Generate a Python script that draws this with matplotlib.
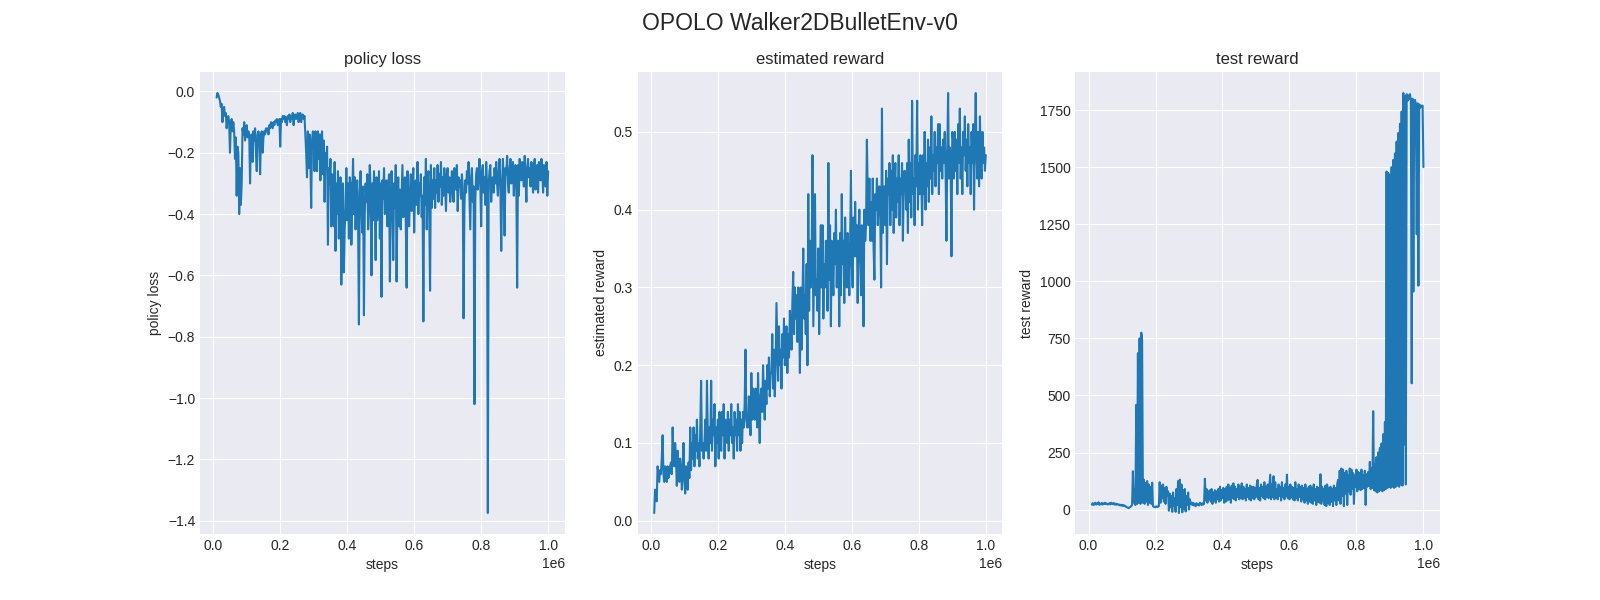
import numpy as np
import matplotlib
matplotlib.use("Agg")
import matplotlib.pyplot as plt

# one evaluation every 2500 steps, starting at 10k
FIRST_STEP = 10000
STEP = 2500

policy_loss = [
    -0.02, -0.005, -0.01, -0.02, -0.03, -0.05, -0.04, -0.10, -0.06, -0.05, -0.08, -0.07, -0.12, -0.09, -0.08, -0.10, -0.20, -0.11, -0.09, -0.13,
    -0.10, -0.13, -0.22, -0.15, -0.34, -0.18, -0.20, -0.40, -0.25, -0.37, -0.30, -0.12, -0.14, -0.10, -0.16, -0.12, -0.11, -0.15, -0.13, -0.14,
    -0.30, -0.15, -0.14, -0.23, -0.13, -0.16, -0.12, -0.20, -0.26, -0.14, -0.13, -0.15, -0.27, -0.14, -0.13, -0.20, -0.15, -0.13, -0.14, -0.12,
    -0.13, -0.12, -0.14, -0.11, -0.12, -0.10, -0.11, -0.12, -0.10, -0.11, -0.095, -0.10, -0.09, -0.11, -0.10, -0.09, -0.18, -0.09, -0.10, -0.08,
    -0.09, -0.08, -0.10, -0.085, -0.11, -0.08, -0.09, -0.075, -0.10, -0.08, -0.09, -0.07, -0.11, -0.08, -0.075, -0.09, -0.08, -0.07, -0.10, -0.08,
    -0.07, -0.10, -0.08, -0.075, -0.09, -0.08, -0.14, -0.20, -0.28, -0.13, -0.25, -0.14, -0.22, -0.38, -0.16, -0.13, -0.15, -0.26, -0.13, -0.14,
    -0.26, -0.13, -0.22, -0.14, -0.29, -0.15, -0.13, -0.27, -0.16, -0.36, -0.20, -0.24, -0.18, -0.50, -0.25, -0.30, -0.22, -0.44, -0.27, -0.35,
    -0.44, -0.23, -0.52, -0.30, -0.40, -0.26, -0.48, -0.35, -0.28, -0.63, -0.33, -0.30, -0.59, -0.45, -0.38, -0.25, -0.42, -0.30, -0.48, -0.28,
    -0.30, -0.50, -0.35, -0.22, -0.40, -0.28, -0.45, -0.35, -0.29, -0.42, -0.76, -0.33, -0.26, -0.38, -0.46, -0.31, -0.73, -0.40, -0.30, -0.36,
    -0.27, -0.45, -0.38, -0.24, -0.33, -0.60, -0.30, -0.42, -0.26, -0.36, -0.55, -0.28, -0.42, -0.34, -0.26, -0.48, -0.30, -0.67, -0.29, -0.35,
    -0.25, -0.40, -0.36, -0.29, -0.44, -0.31, -0.27, -0.62, -0.40, -0.26, -0.33, -0.55, -0.30, -0.38, -0.24, -0.62, -0.35, -0.28, -0.44, -0.32,
    -0.45, -0.34, -0.24, -0.41, -0.30, -0.28, -0.43, -0.64, -0.26, -0.38, -0.44, -0.32, -0.27, -0.39, -0.31, -0.25, -0.46, -0.33, -0.29, -0.37,
    -0.23, -0.40, -0.30, -0.34, -0.27, -0.41, -0.34, -0.75, -0.28, -0.37, -0.22, -0.45, -0.30, -0.26, -0.40, -0.65, -0.24, -0.38, -0.29, -0.35,
    -0.25, -0.38, -0.29, -0.33, -0.24, -0.36, -0.27, -0.31, -0.23, -0.37, -0.28, -0.34, -0.25, -0.31, -0.39, -0.27, -0.25, -0.33, -0.28, -0.36,
    -0.33, -0.26, -0.28, -0.36, -0.25, -0.30, -0.32, -0.24, -0.39, -0.28, -0.31, -0.29, -0.35, -0.27, -0.31, -0.74, -0.38, -0.29, -0.33, -0.26,
    -0.30, -0.23, -0.34, -0.45, -0.28, -0.25, -0.36, -0.31, -1.02, -0.36, -0.27, -0.25, -0.32, -0.28, -0.22, -0.30, -0.44, -0.26, -0.24, -0.33,
    -0.28, -0.37, -0.23, -0.30, -1.375, -0.30, -0.26, -0.24, -0.36, -0.29, -0.28, -0.33, -0.25, -0.30, -0.23, -0.30, -0.34, -0.26, -0.22, -0.31,
    -0.52, -0.31, -0.22, -0.29, -0.47, -0.25, -0.27, -0.21, -0.30, -0.33, -0.25, -0.22, -0.30, -0.27, -0.23, -0.34, -0.28, -0.24, -0.30, -0.64,
    -0.24, -0.34, -0.22, -0.27, -0.29, -0.23, -0.26, -0.31, -0.21, -0.28, -0.36, -0.25, -0.22, -0.28, -0.25, -0.31, -0.23, -0.27, -0.33, -0.24,
    -0.22, -0.32, -0.26, -0.24, -0.33, -0.23, -0.28, -0.29, -0.22, -0.26, -0.33, -0.24, -0.25, -0.31, -0.23, -0.34, -0.26,
]

estimated_reward = [
    0.01, 0.04, 0.03, 0.025, 0.07, 0.06, 0.05, 0.065, 0.06, 0.08, 0.11, 0.06, 0.05, 0.07, 0.065, 0.05, 0.07, 0.055, 0.06, 0.07,
    0.075, 0.06, 0.12, 0.08, 0.07, 0.10, 0.08, 0.045, 0.09, 0.06, 0.05, 0.08, 0.07, 0.04, 0.06, 0.10, 0.055, 0.035, 0.07, 0.05,
    0.04, 0.075, 0.055, 0.12, 0.065, 0.10, 0.08, 0.12, 0.07, 0.11, 0.09, 0.13, 0.08, 0.10, 0.07, 0.12, 0.18, 0.09, 0.10, 0.08,
    0.10, 0.13, 0.09, 0.18, 0.11, 0.08, 0.12, 0.10, 0.18, 0.09, 0.13, 0.11, 0.15, 0.07, 0.12, 0.10, 0.13, 0.08, 0.14, 0.11,
    0.09, 0.14, 0.11, 0.15, 0.08, 0.13, 0.12, 0.10, 0.14, 0.09, 0.13, 0.11, 0.15, 0.10, 0.12, 0.08, 0.14, 0.11, 0.13, 0.09,
    0.15, 0.11, 0.14, 0.09, 0.13, 0.10, 0.14, 0.12, 0.15, 0.22, 0.13, 0.12, 0.12, 0.16, 0.14, 0.11, 0.19, 0.13, 0.17, 0.14,
    0.13, 0.17, 0.15, 0.12, 0.19, 0.14, 0.10, 0.16, 0.17, 0.14, 0.20, 0.16, 0.13, 0.18, 0.15, 0.20, 0.17, 0.21, 0.16, 0.19,
    0.19, 0.24, 0.17, 0.22, 0.16, 0.20, 0.28, 0.23, 0.18, 0.25, 0.20, 0.22, 0.17, 0.24, 0.21, 0.26, 0.20, 0.23, 0.25, 0.19,
    0.24, 0.21, 0.27, 0.25, 0.22, 0.28, 0.32, 0.24, 0.30, 0.26, 0.29, 0.23, 0.30, 0.27, 0.19, 0.30, 0.22, 0.28, 0.35, 0.26,
    0.29, 0.24, 0.33, 0.20, 0.42, 0.27, 0.36, 0.30, 0.33, 0.47, 0.25, 0.34, 0.42, 0.29, 0.31, 0.27, 0.35, 0.24, 0.33, 0.38,
    0.30, 0.38, 0.26, 0.33, 0.30, 0.36, 0.34, 0.27, 0.46, 0.31, 0.38, 0.25, 0.36, 0.32, 0.29, 0.37, 0.33, 0.40, 0.30, 0.36,
    0.36, 0.25, 0.37, 0.29, 0.42, 0.33, 0.36, 0.28, 0.39, 0.33, 0.30, 0.37, 0.34, 0.29, 0.36, 0.45, 0.33, 0.30, 0.39, 0.34,
    0.41, 0.34, 0.38, 0.28, 0.37, 0.40, 0.34, 0.29, 0.38, 0.35, 0.25, 0.40, 0.36, 0.38, 0.49, 0.42, 0.38, 0.44, 0.36, 0.41,
    0.36, 0.44, 0.35, 0.31, 0.42, 0.40, 0.44, 0.38, 0.41, 0.43, 0.39, 0.30, 0.53, 0.37, 0.41, 0.43, 0.38, 0.45, 0.33, 0.44,
    0.42, 0.46, 0.38, 0.45, 0.40, 0.47, 0.37, 0.43, 0.46, 0.39, 0.44, 0.41, 0.47, 0.38, 0.44, 0.42, 0.46, 0.36, 0.43, 0.45,
    0.44, 0.40, 0.46, 0.37, 0.49, 0.41, 0.46, 0.39, 0.54, 0.42, 0.44, 0.38, 0.47, 0.43, 0.54, 0.40, 0.46, 0.42, 0.47, 0.44,
    0.38, 0.47, 0.42, 0.50, 0.40, 0.46, 0.43, 0.49, 0.41, 0.48, 0.44, 0.52, 0.42, 0.47, 0.45, 0.50, 0.43, 0.48, 0.46, 0.51,
    0.42, 0.51, 0.45, 0.48, 0.44, 0.49, 0.46, 0.50, 0.45, 0.36, 0.47, 0.55, 0.44, 0.48, 0.47, 0.34, 0.50, 0.49, 0.44, 0.50,
    0.45, 0.49, 0.42, 0.51, 0.46, 0.53, 0.44, 0.48, 0.42, 0.50, 0.47, 0.52, 0.45, 0.49, 0.43, 0.51, 0.46, 0.48, 0.42, 0.50,
    0.46, 0.51, 0.40, 0.49, 0.55, 0.47, 0.44, 0.50, 0.43, 0.52, 0.46, 0.44, 0.50, 0.46, 0.48, 0.45, 0.47,
]

test_reward = [
    22, 28, 20, 25, 30, 22, 27, 24, 32, 21, 26, 23, 29, 22, 27, 25, 30, 24, 26, 22,
    25, 28, 23, 30, 26, 24, 29, 22, 26, 21, 25, 23, 20, 22, 18, 21, 17, 20, 16, 18,
    15, 12, 10, 8, 6, 10, 12, 15, 20, 168, 30, 87, 20, 459, 25, 685, 30, 750, 25, 775,
    743, 30, 131, 25, 117, 35, 125, 20, 110, 30, 100, 25, 118, 15, 12, 12, 10, 14, 12, 12,
    15, 120, 30, 105, 50, 110, 35, 95, 25, 100, 60, 80, -5, 70, 10, 60, -10, 75, 15, 50,
    -10, 90, 20, 125, -15, 131, 10, 110, -12, 85, 5, 90, -8, 60, 20, 75, 0, 45, 25, 30,
    20, 30, 18, 25, 15, 28, 20, 22, 18, 30, 25, 20, 28, 22, 25, 135, 40, 90, 30, 80,
    45, 85, 35, 90, 25, 75, 40, 85, 30, 80, 45, 90, 35, 100, 40, 85, 50, 95, 30, 90,
    35, 100, 40, 110, 45, 95, 30, 105, 50, 115, 45, 100, 40, 90, 55, 110, 45, 100, 50, 115,
    45, 100, 50, 90, 40, 110, 55, 95, 45, 105, 40, 100, 50, 100, 45, 95, 55, 110, 130, 45,
    95, 40, 110, 60, 100, 50, 120, 45, 100, 55, 110, 50, 100, 153, 45, 110, 55, 146, 45, 120,
    50, 90, 45, 110, 60, 100, 40, 120, 55, 95, 45, 110, 60, 153, 50, 100, 45, 110, 55, 100,
    45, 95, 40, 120, 50, 90, 40, 110, 55, 100, 35, 105, 45, 95, 30, 110, 40, 90, 25, 100,
    35, 105, 30, 95, 25, 110, 40, 90, 20, 100, 35, 95, 30, 155, 25, 100, 40, 90, 20, 105,
    15, 110, 30, 95, 20, 100, 35, 90, 15, 105, 40, 95, 20, 110, 130, 40, 170, 25, 180, 60,
    175, 15, 160, 70, 170, 20, 150, 80, 180, 65, 175, 90, 160, 25, 150, 100, 175, 80, 165, 90,
    160, 85, 175, 90, 150, 95, 170, 20, 155, 100, 165, 105, 209, 90, 180, 95, 431, 85, 200, 80,
    230, 75, 250, 80, 270, 85, 290, 80, 330, 85, 384, 90, 1481, 95, 1475, 100, 1466, 95, 1500, 100,
    1532, 95, 1560, 100, 1612, 105, 1650, 100, 1690, 110, 1744, 105, 1825, 285, 1810, 110, 1820, 1790, 1815, 1800,
    1820, 1790, 553, 1800, 955, 1780, 1795, 1770, 1206, 1780, 981, 1775, 1760, 1770, 1765, 1770, 1500,
]

titles = ["policy loss", "estimated reward", "test reward"]
series = [policy_loss, estimated_reward, test_reward]

plt.style.use("seaborn-v0_8-darkgrid")
plt.rcParams["font.family"] = ["Liberation Sans", "DejaVu Sans"]

fig, axes = plt.subplots(1, 3, figsize=(16, 6))
fig.suptitle("OPOLO Walker2DBulletEnv-v0", fontsize=16.5)

for ax, name, values in zip(axes, titles, series):
    steps = FIRST_STEP + STEP * np.arange(len(values))
    ax.plot(steps, values, color="#1f77b4", linewidth=1.5)
    ax.set_title(name)
    ax.set_xlabel("steps")
    ax.set_ylabel(name)

fig.savefig("out.png", dpi=100)
